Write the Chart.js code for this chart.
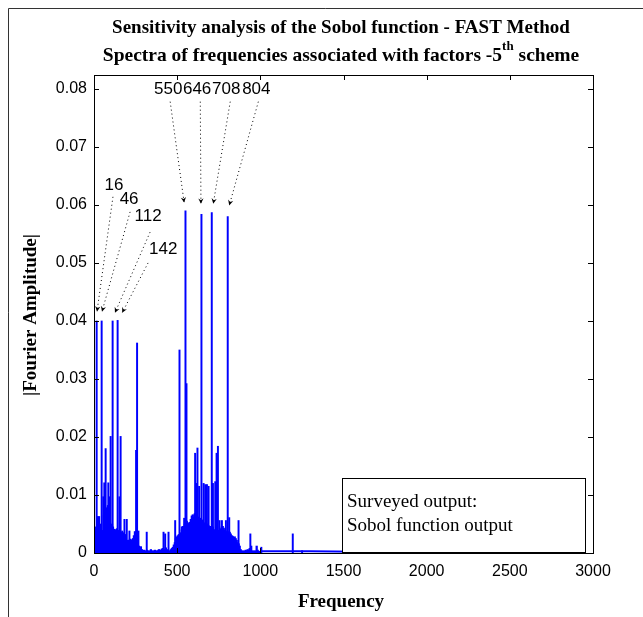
<!DOCTYPE html>
<html>
<head>
<meta charset="utf-8">
<title>Sobol function - FAST spectrum</title>
<script src="https://cdn.jsdelivr.net/npm/chart.js@4.4.1/dist/chart.umd.min.js"></script>
<style>
  html, body { margin: 0; padding: 0; background: #fff; }
  canvas { display: block; }
</style>
</head>
<body>
<canvas id="spectrumChart" width="643" height="617"></canvas>
<script>
// ---- data ----

// axis ticks
const xTicks = [0, 500, 1000, 1500, 2000, 2500, 3000];
const yTicks = [0, 0.01, 0.02, 0.03, 0.04, 0.05, 0.06, 0.07, 0.08];
const yTickLabels = ['0', '0.01', '0.02', '0.03', '0.04', '0.05', '0.06', '0.07', '0.08'];

// dense low part of the spectrum, one value per 6 Hz bin starting at 0
const floorStep = 6;
const floorAmps = [
  0.0042, 0.0038, 0.0045, 0.0040,
  0.0060, 0.0063, 0.0050,
  0.0037, 0.0035, 0.0039,
  0.0065, 0.0080, 0.0078, 0.0070, 0.0082, 0.0060,
  0.0052, 0.0048, 0.0050, 0.0045, 0.0041,
  0.0040, 0.0038, 0.0042, 0.0039, 0.0036,
  0.0037, 0.0034, 0.0036, 0.0033, 0.0035,
  0.0032, 0.0020, 0.0018, 0.0022, 0.0021,
  0.0024, 0.0023, 0.0022, 0.0025, 0.0030,
  0.0037, 0.0036, 0.0038, 0.0030, 0.0012, 0.0010,
  0.0011, 0.0006, 0.0004, 0.0005,
  0.0004, 0.0003, 0.0005, 0.0004, 0.0003, 0.0004, 0.0006, 0.0004,
  0.0003, 0.0004, 0.0005, 0.0003, 0.0004, 0.0004, 0.0006, 0.0005,
  0.0005, 0.0007, 0.0008, 0.0006, 0.0005, 0.0009, 0.0006,
  0.0004, 0.0003, 0.0004, 0.0006, 0.0008, 0.0010, 0.0014,
  0.0018, 0.0025, 0.0028, 0.0030, 0.0032, 0.0029,
  0.0035, 0.0040, 0.0046, 0.0044, 0.0050, 0.0057,
  0.0055, 0.0052, 0.0050, 0.0053, 0.0058,
  0.0064, 0.0066, 0.0062, 0.0068, 0.0066, 0.0063,
  0.0060, 0.0062, 0.0058, 0.0060, 0.0055, 0.0057, 0.0052,
  0.0050, 0.0052, 0.0048, 0.0050, 0.0047,
  0.0045, 0.0046, 0.0042, 0.0045, 0.0040,
  0.0040, 0.0038, 0.0041, 0.0037, 0.0039, 0.0038, 0.0042,
  0.0045, 0.0046, 0.0043, 0.0040, 0.0038, 0.0035,
  0.0037, 0.0034, 0.0036, 0.0033, 0.0030,
  0.0029, 0.0027, 0.0028, 0.0025, 0.0022,
  0.0018, 0.0016, 0.0012,
  0.0006, 0.0004, 0.0003, 0.0004, 0.0003, 0.0005, 0.0004,
  0.0006, 0.0005, 0.0008, 0.0006, 0.0004, 0.0003, 0.0004,
  0.0003, 0.0004, 0.0012, 0.0005, 0.0003, 0.0003
];

// individual spectral lines standing above the floor
const spikeFreqs = [
  16, 46, 112, 142, 550, 646, 708, 804,
  20, 56, 62, 70, 86, 92, 100, 126, 153, 160, 170, 183, 197, 213, 237, 253, 259, 267,
  317, 418, 428, 448, 488, 514, 528, 542, 556, 562, 578,
  608, 614, 622, 632, 659, 669, 679, 689, 715, 729, 737, 745, 755, 769, 793, 813,
  839, 869, 940, 946, 1006, 1195, 1251
];
const spikeAmps = [
  0.0400, 0.0400, 0.0400, 0.0401, 0.0590, 0.0584, 0.0587, 0.0580,
  0.0063, 0.0097, 0.0121, 0.0180, 0.0121, 0.0097, 0.0201, 0.0040, 0.0097, 0.0201, 0.0038, 0.0058, 0.0058, 0.0038, 0.0024, 0.0177, 0.0362, 0.0038,
  0.0036, 0.0036, 0.0033, 0.0036, 0.0056, 0.0350, 0.0045, 0.0060, 0.0292, 0.0038, 0.0038,
  0.0172, 0.0120, 0.0181, 0.0115, 0.0120, 0.0118, 0.0118, 0.0115, 0.0120, 0.0123, 0.0172, 0.0184, 0.0056, 0.0056, 0.0056, 0.0061,
  0.0017, 0.0056, 0.0033, 0.0012, 0.0010, 0.0033, 0.0004
];

// near-zero tail of the spectrum up to the last frequency
const tailFreqs = [1000, 1300, 1600, 2000, 2400, 2717];
const tailAmps = [0.0003, 0.0003, 0.0002, 0.0002, 0.0002, 0.0002];

// labelled peaks: text spot, arrow start, arrow tip (all in data units)
const peakLabels = ['16', '46', '112', '142', '550', '646', '708', '804'];
const labelFreqs = [120, 211, 325, 416, 446, 620, 795, 976];
const labelAmps = [0.0634, 0.0609, 0.0581, 0.0524, 0.0800, 0.0800, 0.0800, 0.0800];
const tailStartFreqs = [114, 217, 337, 325, 458, 639, 819, 988];
const tailStartAmps = [0.0614, 0.0588, 0.0553, 0.0500, 0.0778, 0.0778, 0.0778, 0.0778];
const tipFreqs = [18, 48, 126, 169, 542, 643, 717, 813];
const tipAmps = [0.0416, 0.0416, 0.0414, 0.0414, 0.0604, 0.0602, 0.0602, 0.0599];

const legendLines = ['Surveyed output:', 'Sobol function output'];

// ---- build datasets ----
const floorPoints = floorAmps.map((a, i) => ({ x: i * floorStep, y: a }));
const spikePoints = spikeFreqs.map((f, i) => ({ x: f, y: spikeAmps[i] }));
const tailPoints = tailFreqs.map((f, i) => ({ x: f, y: tailAmps[i] }));

const BLUE = '#0000ff';
const SERIF = '"Liberation Serif", "Times New Roman", serif';
const SANS = '"Liberation Sans", Arial, sans-serif';

// draws everything MATLAB puts around the axes
const decorPlugin = {
    id: 'decor',
    beforeDraw(chart) {
        const ctx = chart.ctx;
        ctx.save();
        ctx.fillStyle = '#fff';
        ctx.fillRect(0, 0, chart.width, chart.height);
        ctx.restore();
    },
    afterDraw(chart) {
        const ctx = chart.ctx;
        const area = chart.chartArea;
        const xs = chart.scales.x;
        const ys = chart.scales.y;
        ctx.save();

        // figure frame
        ctx.strokeStyle = '#333';
        ctx.lineWidth = 1;
        ctx.beginPath();
        ctx.moveTo(8.5, chart.height);
        ctx.lineTo(8.5, 8.5);
        ctx.lineTo(chart.width, 8.5);
        ctx.stroke();

        // axes box
        ctx.strokeStyle = '#000';
        ctx.strokeRect(area.left + 0.5, area.top + 0.5, area.right - area.left, area.bottom - area.top);

        // inward ticks on all four sides
        const tl = 5;
        ctx.beginPath();
        xTicks.forEach(v => {
            const px = Math.round(xs.getPixelForValue(v)) + 0.5;
            ctx.moveTo(px, area.bottom); ctx.lineTo(px, area.bottom - tl);
            ctx.moveTo(px, area.top); ctx.lineTo(px, area.top + tl);
        });
        yTicks.forEach(v => {
            const py = Math.round(ys.getPixelForValue(v)) + 0.5;
            ctx.moveTo(area.left, py); ctx.lineTo(area.left + tl, py);
            ctx.moveTo(area.right, py); ctx.lineTo(area.right - tl, py);
        });
        ctx.stroke();

        // titles
        ctx.fillStyle = '#000';
        ctx.textBaseline = 'alphabetic';
        ctx.textAlign = 'center';
        ctx.font = 'bold 19px ' + SERIF;
        ctx.fillText('Sensitivity analysis of the Sobol function - FAST Method', 341, 33);

        const partA = 'Spectra of frequencies associated with factors -5';
        const sup = 'th';
        const partB = ' scheme';
        ctx.font = 'bold 19.5px ' + SERIF;
        const wA = ctx.measureText(partA).width;
        const wB = ctx.measureText(partB).width;
        ctx.font = 'bold 13px ' + SERIF;
        const wS = ctx.measureText(sup).width;
        let x0 = 341 - (wA + wS + wB) / 2;
        ctx.textAlign = 'left';
        ctx.font = 'bold 19.5px ' + SERIF;
        ctx.fillText(partA, x0, 61);
        ctx.font = 'bold 13px ' + SERIF;
        ctx.fillText(sup, x0 + wA, 50);
        ctx.font = 'bold 19.5px ' + SERIF;
        ctx.fillText(partB, x0 + wA + wS, 61);

        // axis labels
        ctx.textAlign = 'center';
        ctx.font = 'bold 19px ' + SERIF;
        ctx.fillText('Frequency', 341, 607);
        ctx.save();
        ctx.translate(36, 315);
        ctx.rotate(-Math.PI / 2);
        ctx.fillText('|Fourier Amplitude|', 0, 0);
        ctx.restore();

        // legend box
        const lx = 342, ly = 478;
        ctx.fillStyle = '#fff';
        ctx.fillRect(lx, ly, area.right - 8 - lx, area.bottom - ly);
        ctx.strokeStyle = '#000';
        ctx.strokeRect(lx + 0.5, ly + 0.5, area.right - 8 - lx, area.bottom - ly - 1);
        ctx.fillStyle = '#000';
        ctx.textAlign = 'left';
        ctx.font = '19px ' + SERIF;
        ctx.fillText(legendLines[0], lx + 5, 507);
        ctx.fillText(legendLines[1], lx + 5, 531);

        // peak annotations with dotted arrows
        ctx.font = '17px ' + SANS;
        ctx.textAlign = 'center';
        ctx.textBaseline = 'middle';
        peakLabels.forEach((lab, i) => {
            ctx.fillStyle = '#000';
            ctx.fillText(lab, xs.getPixelForValue(labelFreqs[i]), ys.getPixelForValue(labelAmps[i]));
            const x1 = xs.getPixelForValue(tailStartFreqs[i]);
            const y1 = ys.getPixelForValue(tailStartAmps[i]);
            const x2 = xs.getPixelForValue(tipFreqs[i]);
            const y2 = ys.getPixelForValue(tipAmps[i]);
            ctx.strokeStyle = '#000';
            ctx.lineWidth = 1;
            ctx.setLineDash([1, 3]);
            ctx.beginPath();
            ctx.moveTo(x1, y1);
            ctx.lineTo(x2, y2);
            ctx.stroke();
            ctx.setLineDash([]);
            // small arrow head
            const ang = Math.atan2(y2 - y1, x2 - x1);
            const hl = 6, hw = 0.45;
            ctx.beginPath();
            ctx.moveTo(x2, y2);
            ctx.lineTo(x2 - hl * Math.cos(ang - hw), y2 - hl * Math.sin(ang - hw));
            ctx.lineTo(x2 - hl * 0.6 * Math.cos(ang), y2 - hl * 0.6 * Math.sin(ang));
            ctx.lineTo(x2 - hl * Math.cos(ang + hw), y2 - hl * Math.sin(ang + hw));
            ctx.closePath();
            ctx.fill();
        });

        ctx.restore();
    }
};

const ctx = document.getElementById('spectrumChart').getContext('2d');
const spectrumChart = new Chart(ctx, {
    type: 'bar',
    data: {
        datasets: [
            {
                label: 'floor',
                data: floorPoints,
                backgroundColor: BLUE,
                borderWidth: 0,
                barThickness: 1.6,
                grouped: false,
                order: 3
            },
            {
                label: 'lines',
                data: spikePoints,
                backgroundColor: BLUE,
                borderWidth: 0,
                barThickness: 1.3,
                grouped: false,
                order: 2
            },
            {
                type: 'line',
                label: 'tail',
                data: tailPoints,
                borderColor: BLUE,
                borderWidth: 2,
                pointRadius: 0,
                tension: 0,
                order: 1
            }
        ]
    },
    options: {
        responsive: false,
        animation: false,
        events: [],
        layout: { padding: { left: 0, top: 75, right: 50, bottom: 0 } },
        plugins: {
            legend: { display: false },
            tooltip: { enabled: false },
            title: { display: false }
        },
        scales: {
            x: {
                type: 'linear',
                min: 0,
                max: 3000,
                offset: false,
                afterFit: s => { s.height = 64; },
                afterBuildTicks: s => { s.ticks = xTicks.map(v => ({ value: v })); },
                grid: { display: false, drawTicks: false, offset: false },
                border: { display: false },
                ticks: {
                    autoSkip: false,
                    maxRotation: 0,
                    padding: 9,
                    color: '#000',
                    font: { family: SANS, size: 16 },
                    callback: v => String(v)
                }
            },
            y: {
                min: 0,
                max: 0.0824,
                afterFit: s => { s.width = 94; },
                afterBuildTicks: s => { s.ticks = yTicks.map(v => ({ value: v })); },
                grid: { display: false, drawTicks: false },
                border: { display: false },
                ticks: {
                    autoSkip: false,
                    padding: 7,
                    color: '#000',
                    font: { family: SANS, size: 16 },
                    callback: (v, i) => yTickLabels[i]
                }
            }
        }
    },
    plugins: [decorPlugin]
});
</script>
</body>
</html>
